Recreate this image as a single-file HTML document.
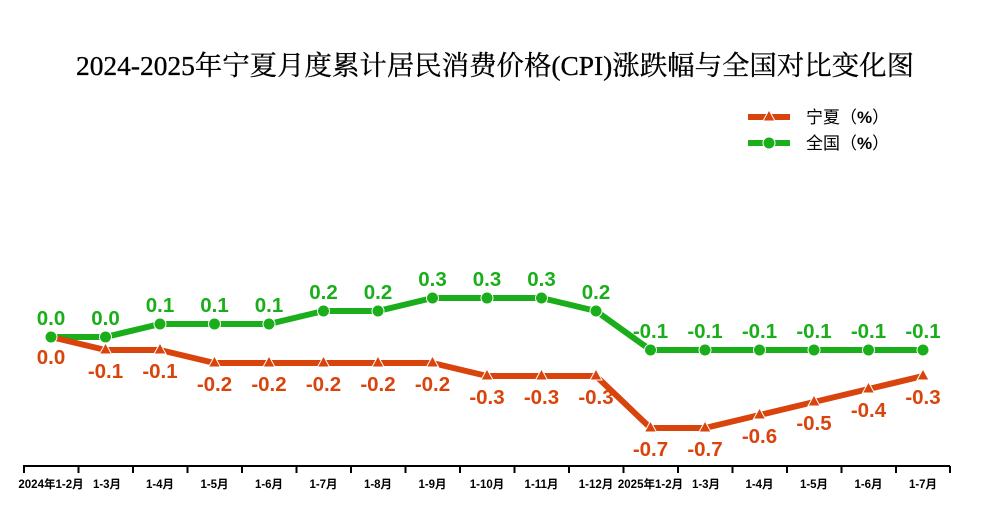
<!DOCTYPE html><html><head><meta charset="utf-8"><style>body{margin:0;background:#fff}svg{display:block}</style></head><body>
<svg width="989" height="530" xmlns="http://www.w3.org/2000/svg">
<text x="495" y="75" text-anchor="middle" font-family="Liberation Serif,'Noto Serif CJK SC',serif" font-size="27" fill="#000" stroke="#000" stroke-width="0.3" textLength="838" lengthAdjust="spacingAndGlyphs">2024-2025年宁夏月度累计居民消费价格(CPI)涨跌幅与全国对比变化图</text>
<g font-family="Liberation Sans,'Noto Sans CJK SC',sans-serif" font-size="17" fill="#000">
<line x1="748" y1="117" x2="790" y2="117" stroke="#d9430c" stroke-width="6"/><polygon points="769,110 763,121 775,121" fill="#d9430c" stroke="#fff" stroke-width="1"/>
<text x="806" y="123">宁夏（<tspan font-weight="bold">%</tspan>）</text>
<line x1="748" y1="143" x2="790" y2="143" stroke="#1aae1a" stroke-width="6"/><circle cx="769" cy="143" r="6" fill="#1aae1a" stroke="#fff"/>
<text x="806" y="149">全国（<tspan font-weight="bold">%</tspan>）</text>
</g>
<line x1="23" y1="466" x2="950" y2="466" stroke="#000" stroke-width="2"/>
<g stroke="#000" stroke-width="2">
<line x1="24" y1="466" x2="24" y2="473"/><line x1="78.5" y1="466" x2="78.5" y2="473"/><line x1="133" y1="466" x2="133" y2="473"/><line x1="187.5" y1="466" x2="187.5" y2="473"/><line x1="242" y1="466" x2="242" y2="473"/><line x1="296.5" y1="466" x2="296.5" y2="473"/><line x1="351" y1="466" x2="351" y2="473"/><line x1="405.5" y1="466" x2="405.5" y2="473"/><line x1="460" y1="466" x2="460" y2="473"/><line x1="514.5" y1="466" x2="514.5" y2="473"/><line x1="569" y1="466" x2="569" y2="473"/><line x1="623.5" y1="466" x2="623.5" y2="473"/><line x1="678" y1="466" x2="678" y2="473"/><line x1="732.5" y1="466" x2="732.5" y2="473"/><line x1="787" y1="466" x2="787" y2="473"/><line x1="841.5" y1="466" x2="841.5" y2="473"/><line x1="896" y1="466" x2="896" y2="473"/><line x1="950" y1="466" x2="950" y2="473"/>
</g>
<g font-family="Liberation Sans,'Noto Sans CJK SC',sans-serif" font-size="11.5" font-weight="bold" text-anchor="middle" fill="#000">
<text x="51" y="488">2024年1-2月</text><text x="107" y="488">1-3月</text><text x="160" y="488">1-4月</text><text x="214.5" y="488">1-5月</text><text x="269" y="488">1-6月</text><text x="323.5" y="488">1-7月</text><text x="378" y="488">1-8月</text><text x="432.5" y="488">1-9月</text><text x="487" y="488">1-10月</text><text x="541.5" y="488">1-11月</text><text x="596" y="488">1-12月</text><text x="650.5" y="488">2025年1-2月</text><text x="706" y="488">1-3月</text><text x="759.5" y="488">1-4月</text><text x="814" y="488">1-5月</text><text x="868.5" y="488">1-6月</text><text x="923" y="488">1-7月</text>
</g>
<polyline fill="none" stroke="#1aae1a" stroke-width="6" stroke-linejoin="round" points="51,337 105.5,337 160,324 214.5,324 269,324 323.5,311 378,311 432.5,298 487,298 541.5,298 596,311 650.5,350 705,350 759.5,350 814,350 868.5,350 923,350"/>
<polyline fill="none" stroke="#d9430c" stroke-width="6" stroke-linejoin="round" points="51,337 105.5,350 160,350 214.5,363 269,363 323.5,363 378,363 432.5,363 487,376 541.5,376 596,376 650.5,428 705,428 759.5,415 814,402 868.5,389 923,376"/>
<g fill="#1aae1a" stroke="#fff" stroke-width="1">
<circle cx="51" cy="337" r="6"/><circle cx="105.5" cy="337" r="6"/><circle cx="160" cy="324" r="6"/><circle cx="214.5" cy="324" r="6"/><circle cx="269" cy="324" r="6"/><circle cx="323.5" cy="311" r="6"/><circle cx="378" cy="311" r="6"/><circle cx="432.5" cy="298" r="6"/><circle cx="487" cy="298" r="6"/><circle cx="541.5" cy="298" r="6"/><circle cx="596" cy="311" r="6"/><circle cx="650.5" cy="350" r="6"/><circle cx="705" cy="350" r="6"/><circle cx="759.5" cy="350" r="6"/><circle cx="814" cy="350" r="6"/><circle cx="868.5" cy="350" r="6"/><circle cx="923" cy="350" r="6"/>
</g>
<g fill="#d9430c" stroke="#fff" stroke-width="1">
<polygon points="105.5,343 99.5,354 111.5,354"/><polygon points="160,343 154,354 166,354"/><polygon points="214.5,356 208.5,367 220.5,367"/><polygon points="269,356 263,367 275,367"/><polygon points="323.5,356 317.5,367 329.5,367"/><polygon points="378,356 372,367 384,367"/><polygon points="432.5,356 426.5,367 438.5,367"/><polygon points="487,369 481,380 493,380"/><polygon points="541.5,369 535.5,380 547.5,380"/><polygon points="596,369 590,380 602,380"/><polygon points="650.5,421 644.5,432 656.5,432"/><polygon points="705,421 699,432 711,432"/><polygon points="759.5,408 753.5,419 765.5,419"/><polygon points="814,395 808,406 820,406"/><polygon points="868.5,382 862.5,393 874.5,393"/><polygon points="923,369 917,380 929,380"/>
</g>
<g font-family="Liberation Sans,sans-serif" font-size="20.5" font-weight="bold" text-anchor="middle" fill="#1aae1a">
<text x="51" y="325">0.0</text><text x="105.5" y="325">0.0</text><text x="160" y="312">0.1</text><text x="214.5" y="312">0.1</text><text x="269" y="312">0.1</text><text x="323.5" y="299">0.2</text><text x="378" y="299">0.2</text><text x="432.5" y="286">0.3</text><text x="487" y="286">0.3</text><text x="541.5" y="286">0.3</text><text x="596" y="299">0.2</text><text x="650.5" y="338">-0.1</text><text x="705" y="338">-0.1</text><text x="759.5" y="338">-0.1</text><text x="814" y="338">-0.1</text><text x="868.5" y="338">-0.1</text><text x="923" y="338">-0.1</text>
</g>
<g font-family="Liberation Sans,sans-serif" font-size="20.5" font-weight="bold" text-anchor="middle" fill="#d9430c">
<text x="51" y="364">0.0</text><text x="105.5" y="378">-0.1</text><text x="160" y="378">-0.1</text><text x="214.5" y="391">-0.2</text><text x="269" y="391">-0.2</text><text x="323.5" y="391">-0.2</text><text x="378" y="391">-0.2</text><text x="432.5" y="391">-0.2</text><text x="487" y="404">-0.3</text><text x="541.5" y="404">-0.3</text><text x="596" y="404">-0.3</text><text x="650.5" y="456">-0.7</text><text x="705" y="456">-0.7</text><text x="759.5" y="443">-0.6</text><text x="814" y="430">-0.5</text><text x="868.5" y="417">-0.4</text><text x="923" y="404">-0.3</text>
</g>
</svg></body></html>
